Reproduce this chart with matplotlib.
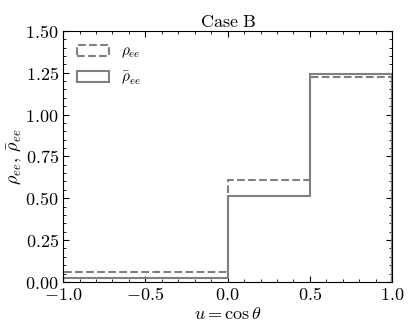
import matplotlib
matplotlib.use("Agg")
import matplotlib.pyplot as plt
from matplotlib.ticker import MultipleLocator, FuncFormatter

plt.rcParams['mathtext.fontset'] = 'cm'
plt.rcParams['font.family'] = 'serif'
plt.rcParams['font.size'] = 13

# bin edges in u = cos(theta)
bins = [-1.0, 0.0, 0.5, 1.0]
rho_ee = [0.06, 0.61, 1.225]
rho_bar_ee = [0.025, 0.515, 1.245]

fig = plt.figure(figsize=(4.15, 3.32), dpi=100)
ax = fig.add_axes([0.152, 0.151, 0.793, 0.756])

ax.hist(bins[:-1], bins=bins, weights=rho_ee, histtype='step',
        color='#808080', ls='--', lw=1.5, label=r'$\rho_{ee}$')
ax.hist(bins[:-1], bins=bins, weights=rho_bar_ee, histtype='step',
        color='#808080', ls='-', lw=1.5, label=r'$\bar{\rho}_{ee}$')

ax.set_xlim(-1, 1)
ax.set_ylim(0, 1.5)
ax.xaxis.set_major_locator(MultipleLocator(0.5))
ax.xaxis.set_minor_locator(MultipleLocator(0.1))
ax.yaxis.set_major_locator(MultipleLocator(0.25))
ax.yaxis.set_minor_locator(MultipleLocator(0.05))
ax.xaxis.set_major_formatter(FuncFormatter(lambda v, p: r'$%.1f$' % v))
ax.yaxis.set_major_formatter(FuncFormatter(lambda v, p: r'$%.2f$' % v))
ax.tick_params(which='both', direction='in', top=True, right=True,
               labelsize=13)
ax.tick_params(which='major', length=4, pad=3)
ax.tick_params(which='minor', length=2)

ax.set_xlabel(r'$u = \cos\theta$', labelpad=1)
ax.set_ylabel(r'$\rho_{ee},\, \bar{\rho}_{ee}$', labelpad=1)
ax.set_title(r'$\mathrm{Case\ B}$', fontsize=13, pad=3)
ax.legend(loc='upper left', frameon=False, handlelength=2.1, fontsize=11,
          borderaxespad=0.5, labelspacing=0.6)

fig.savefig('out.png', dpi=100)
